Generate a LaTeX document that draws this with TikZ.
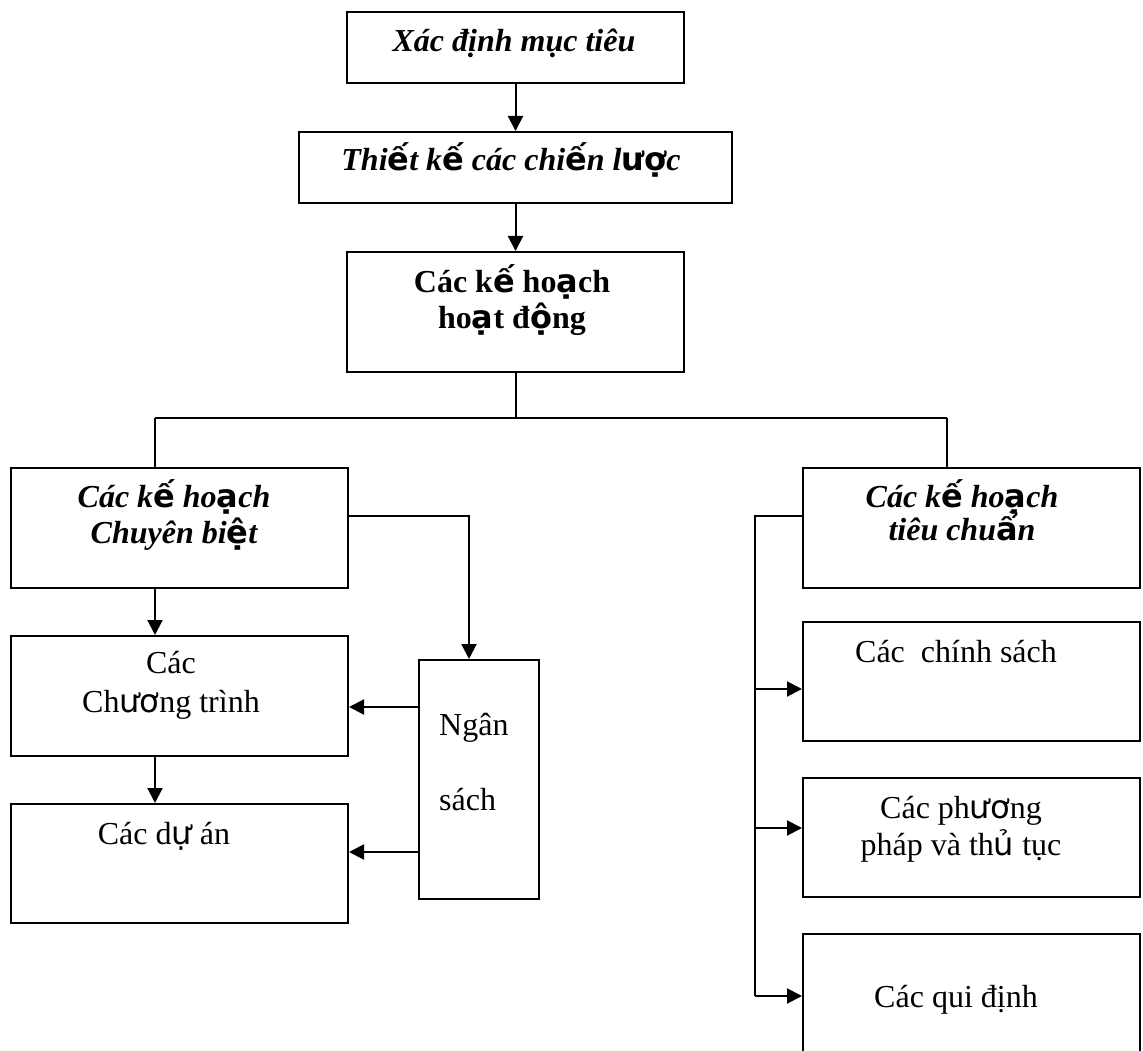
\documentclass[tikz,border=0pt]{standalone}
\usepackage{fontspec}
\setmainfont{Liberation Serif}
\newfontfamily\dvfont{DejaVu Sans}
\newcommand\dv[1]{{\dvfont\upshape #1}}
\usetikzlibrary{arrows.meta}

\begin{document}
\begin{tikzpicture}[x=1pt,y=-1pt,
  box/.style={draw,line width=2pt,rectangle,inner sep=0pt,minimum width=#1},
  line/.style={line width=2pt},
  arr/.style={line width=2pt,-{Triangle[length=15pt,width=15pt]}},
  txt/.style={inner sep=0pt,align=center,anchor=base,font=\fontsize{32}{37}\selectfont},
  bitxt/.style={txt,font=\fontsize{32}{37}\selectfont\bfseries\itshape},
  btxt/.style={txt,font=\fontsize{32}{37}\selectfont\bfseries}]

  \useasboundingbox (0,0) rectangle (1143,1051);
  \fill[white] (0,0) rectangle (1143,1051);

  % boxes
  \node[box=337pt,minimum height=71pt]  (b1) at (515.5,47.5) {};
  \node[box=433pt,minimum height=71pt]  (b2) at (515.5,167.5) {};
  \node[box=337pt,minimum height=120pt] (b3) at (515.5,312) {};
  \node[box=337pt,minimum height=120pt] (l1) at (179.5,528) {};
  \node[box=337pt,minimum height=120pt] (l2) at (179.5,696) {};
  \node[box=337pt,minimum height=119pt] (l3) at (179.5,863.5) {};
  \node[box=120pt,minimum height=239pt] (ns) at (479,779.5) {};
  \node[box=337pt,minimum height=120pt] (r1) at (971.5,528) {};
  \node[box=337pt,minimum height=119pt] (r2) at (971.5,681.5) {};
  \node[box=337pt,minimum height=119pt] (r3) at (971.5,837.5) {};
  \node[box=337pt,minimum height=120pt] (r4) at (971.5,994) {};

  % texts (multi-line nodes are placed by the baseline of their last line)
  \node[bitxt] (t1) at (514,52) {Xác định mục tiêu};
  \node[bitxt] (t2) at (511,171) {Thi\dv{ế}t k\dv{ế} các chi\dv{ế}n l\dv{ượ}c};
  \node[btxt]  (t3) at (512,328) {Các k\dv{ế} ho\dv{ạ}ch\\[-1pt]ho\dv{ạ}t đ\dv{ộ}ng};
  \node[bitxt] (t4) at (174,543) {Các k\dv{ế} ho\dv{ạ}ch\\[-1pt]Chuyên bi\dv{ệ}t};
  \node[txt]   (t5) at (171,712) {Các\\[2pt]Ch\dv{ươ}ng trình};
  \node[txt]   (t6) at (164,844) {Các d\dv{ự} án};
  \node[txt,align=left,anchor=base west] (t7) at (439,810) {Ngân\\[38pt]sách};
  \node[bitxt] (t8) at (962,540) {Các k\dv{ế} ho\dv{ạ}ch\\[-4pt]tiêu chu\dv{ẩ}n};
  \node[txt]   (t9) at (956,662) {Các~ chính sách};
  \node[txt]   (t10) at (961,855) {Các ph\dv{ươ}ng\\pháp và th\dv{ủ} tục};
  \node[txt]   (t11) at (956,1007) {Các qui định};

  % main chain
  \draw[arr] (b1) -- (b2);
  \draw[arr] (b2) -- (b3);

  % branching below the operational plans
  \coordinate (jc) at (515.5,418);
  \coordinate (jl) at (155,418);
  \coordinate (jr) at (947,418);
  \draw[line] (b3.south) -- (jc);
  \draw[line] (jl) -- (jr);
  \draw[line] (jl) -- (jl |- l1.north);
  \draw[line] (jr) -- (jr |- r1.north);

  % single-use plans
  \draw[arr] (jl |- l1.south) -- (jl |- l2.north);
  \draw[arr] (jl |- l2.south) -- (jl |- l3.north);
  \coordinate (nb) at (469,516);
  \draw[arr] (nb -| l1.east) -- (nb) -- (nb |- ns.north);
  \coordinate (n2) at (419,707);
  \coordinate (n3) at (419,852);
  \draw[arr] (n2 -| ns.west) -- (n2 -| l2.east);
  \draw[arr] (n3 -| ns.west) -- (n3 -| l3.east);

  % standing plans
  \coordinate (sp) at (755,516);
  \coordinate (s2) at (755,689);
  \coordinate (s3) at (755,828);
  \coordinate (s4) at (755,996);
  \draw[line] (sp -| r1.west) -- (sp) -- (s4);
  \draw[arr] (s2) -- (s2 -| r2.west);
  \draw[arr] (s3) -- (s3 -| r3.west);
  \draw[arr] (s4) -- (s4 -| r4.west);
\end{tikzpicture}
\end{document}
